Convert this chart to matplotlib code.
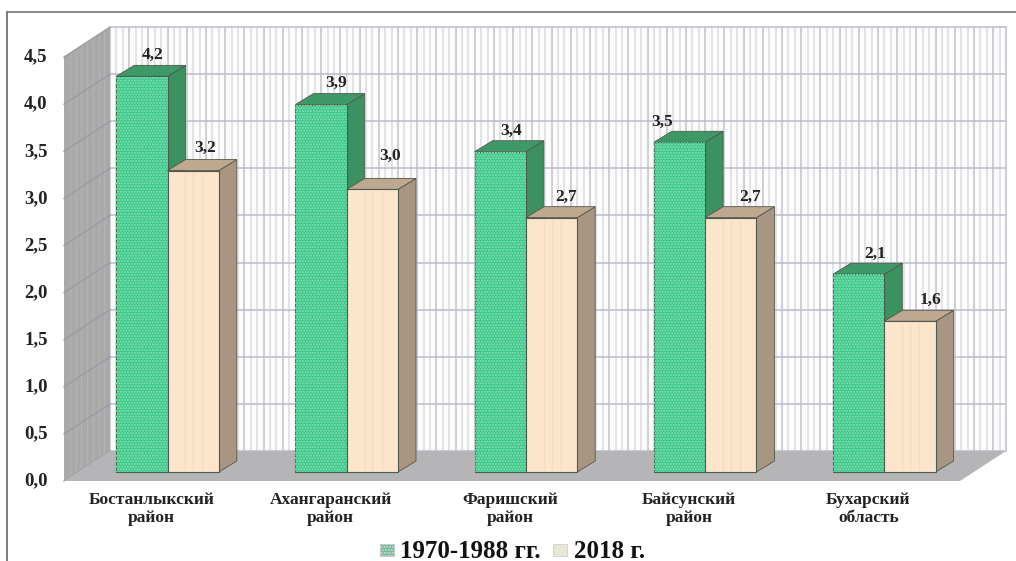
import matplotlib
matplotlib.use("Agg")
import matplotlib.pyplot as plt
import numpy as np
from matplotlib.patches import Polygon, Rectangle

plt.rcParams['font.family'] = ['Liberation Serif', 'DejaVu Serif']
plt.rcParams['hatch.linewidth'] = 0.5

districts = ["Бостанлыкский\nрайон", "Ахангаранский\nрайон", "Фаришский\nрайон",
             "Байсунский\nрайон", "Бухарский\nобласть"]
old_values = [4.2, 3.9, 3.4, 3.5, 2.1]
new_values = [3.2, 3.0, 2.7, 2.7, 1.6]
old_labels = ["4,2", "3,9", "3,4", "3,5", "2,1"]
new_labels = ["3,2", "3,0", "2,7", "2,7", "1,6"]
y_ticks = [0, 0.5, 1, 1.5, 2, 2.5, 3, 3.5, 4, 4.5]
y_tick_labels = ["0,0", "0,5", "1,0", "1,5", "2,0", "2,5", "3,0", "3,5", "4,0", "4,5"]
legend_names = ["1970-1988 гг.", "2018 г."]

# pixels per unit of the data axes
W, H = 1016, 561
PX = 179.2
PY = 94.2
BASE_X = 167.5
BASE_Y = 472

# label nudges in pixels, the original placed these by hand
old_nudge = [(2, 21), (6, 22), (2, 21), (-26, 20), (7, 20)]
new_nudge = [(12, 23), (18, 34), (15, 21), (19, 21), (21, 21)]

fig = plt.figure(figsize=(W / 100, H / 100), dpi=100)
ax = fig.add_axes([0, 0, 1, 1])
ax.set_xlim(-BASE_X / PX, (W - BASE_X) / PX)
ax.set_ylim((BASE_Y - H) / PY, BASE_Y / PY)
ax.axis("off")


def dx(p):
    return p / PX


def dy(p):
    return p / PY


# chart box
x_front = dx(64 - BASE_X)
x_right = dx(960 - BASE_X)
wall_dx = dx(46)
wall_dy = dy(30)
floor_y = dy(-9)

# back wall
top = floor_y + 4.5
ax.add_patch(Rectangle((x_front + wall_dx, floor_y + wall_dy), x_right - x_front, 4.5,
                       fc="#fdfdfd", ec="none", zorder=1))
xs = np.arange(x_front + wall_dx, x_right + wall_dx, dx(6.4))
ax.vlines(xs, floor_y + wall_dy, top + wall_dy, color="#e4e4e8", lw=1.5, zorder=1.1)
ax.vlines(xs[::3], floor_y + wall_dy, top + wall_dy, color="#cfd0d6", lw=1.4, zorder=1.1)
for t in y_ticks:
    ax.plot([x_front + wall_dx, x_right + wall_dx], [floor_y + wall_dy + t] * 2,
            color="#babccb", lw=1.1, zorder=1.2)
ax.plot([x_right + wall_dx] * 2, [floor_y + wall_dy, top + wall_dy], color="#c4c5cc", lw=1.2, zorder=1.2)

# side wall and floor
ax.add_patch(Polygon([(x_front, floor_y), (x_front + wall_dx, floor_y + wall_dy),
                      (x_front + wall_dx, top + wall_dy), (x_front, top)],
                     fc="#a9a9a9", ec="none", zorder=1.3))
for k in np.arange(1, 8):
    xk = x_front + wall_dx * k / 8
    ax.plot([xk, xk], [floor_y + wall_dy * k / 8, top + wall_dy * k / 8],
            color="#b2b2b2", lw=0.9, zorder=1.4)
for t in y_ticks:
    ax.plot([x_front, x_front + wall_dx], [floor_y + t, floor_y + wall_dy + t],
            color="#9b9ba6", lw=1.0, zorder=1.4)
ax.add_patch(Polygon([(x_front, floor_y), (x_front + wall_dx, floor_y + wall_dy),
                      (x_right + wall_dx, floor_y + wall_dy), (x_right, floor_y)],
                     fc="#b5b5b7", ec="none", zorder=1.5))

bar_w = dx(51.3)
depth_x = dx(18)
depth_y = dy(11)


def bar3d(x0, v, face, side, lid, hatch_col=None, order=2):
    ax.add_patch(Polygon([(x0 + bar_w, 0), (x0 + bar_w + depth_x, depth_y),
                          (x0 + bar_w + depth_x, v + depth_y), (x0 + bar_w, v)],
                         fc=side, ec="#55554a", lw=0.6, zorder=order))
    ax.add_patch(Polygon([(x0, v), (x0 + depth_x, v + depth_y),
                          (x0 + bar_w + depth_x, v + depth_y), (x0 + bar_w, v)],
                         fc=lid, ec="#55554a", lw=0.6, zorder=order))
    ax.add_patch(Rectangle((x0, 0), bar_w, v, fc=face, ec="#4a5a50", lw=0.8, zorder=order + 0.1))
    if hatch_col:
        ax.add_patch(Rectangle((x0, 0), bar_w, v, fc="none", ec=hatch_col, lw=0,
                               hatch="oooooo", zorder=order + 0.2))
    else:
        # pale stripes seen through the cream bars
        ax.vlines([x0 + bar_w * f for f in (0.35, 0.5, 0.68)], dy(1), v - dy(1),
                  color="#f3dcc0", lw=1.0, zorder=order + 0.2)


for i in range(len(districts)):
    bar3d(i - bar_w, old_values[i], "#3cc88a", "#3c9160", "#3d9a66", "#70d8a6", order=2)
    bar3d(i, new_values[i], "#fce5cb", "#a89682", "#bfa890", order=3)

    nx, ny = old_nudge[i]
    ax.text(i - bar_w / 2 + depth_x / 2 + dx(nx), old_values[i] + dy(ny), old_labels[i],
            ha="center", va="center", fontsize=12.5, fontweight="bold", color="#222222", zorder=5)
    nx, ny = new_nudge[i]
    ax.text(i + bar_w / 2 + dx(nx), new_values[i] + dy(ny), new_labels[i],
            ha="center", va="center", fontsize=12.5, fontweight="bold", color="#222222", zorder=5)

    ax.text(i - dx(16), dy(-37), districts[i], ha="center", va="center", fontsize=12.5,
            fontweight="bold", color="#222222", linespacing=1.15)

for t, lab in zip(y_ticks, y_tick_labels):
    ax.text(dx(36 - BASE_X), floor_y + t, lab, ha="center", va="center", fontsize=13.5,
            fontweight="bold", color="#222222")

# legend drawn by hand, the entries sit on the bottom edge
leg_y = dy(BASE_Y - 550)
for lx, tx, name, fc, hc in [(380, 400, legend_names[0], "#5fc09a", "#86d8b4"),
                             (553, 574, legend_names[1], "#e9e8d8", None)]:
    ax.add_patch(Rectangle((dx(lx - BASE_X), leg_y - dy(6)), dx(14), dy(12), fc=fc,
                           ec="#c8c8c0", lw=0.5, hatch="oooooo" if hc else None, zorder=4))
    ax.text(dx(tx - BASE_X), leg_y - dy(1), name, ha="left", va="center", fontsize=18,
            fontweight="bold", color="#111111")

# outer border
ax.plot([dx(7 - BASE_X)] * 2, [dy(BASE_Y - H), dy(BASE_Y - 12)], color="#666666", lw=1.2)
ax.plot([dx(7 - BASE_X), dx(W - BASE_X)], [dy(BASE_Y - 12)] * 2, color="#777777", lw=1.2)

fig.savefig("out.png", dpi=100)
